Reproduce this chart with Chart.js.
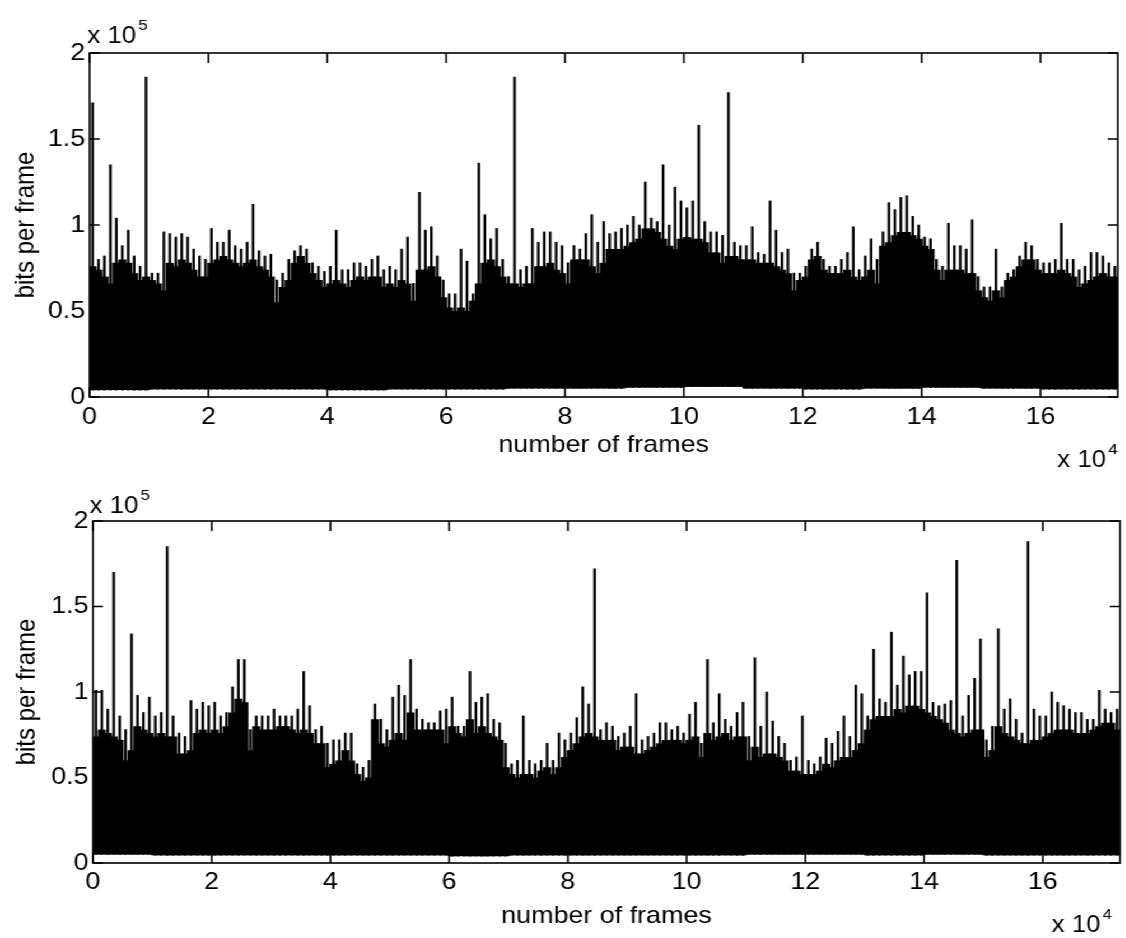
<!DOCTYPE html>
<html>
<head>
<meta charset="utf-8">
<title>bits per frame</title>
<script src="https://cdn.jsdelivr.net/npm/chart.js@4.4.0/dist/chart.umd.min.js"></script>
<style>
  html, body { margin: 0; padding: 0; background: #fff; }
  /* the scan is a little wider than tall, so the whole figure is stretched sideways */
  #wrap { position: absolute; left: 0; top: 0; width: 1005px; height: 938px;
          transform: scaleX(1.12); transform-origin: 0 0; }
  canvas { display: block; }
</style>
</head>
<body>
<div id="wrap">
  <canvas id="topChart" width="1005" height="470"></canvas>
  <canvas id="bottomChart" width="1005" height="468"></canvas>
</div>
<script>
// one bar per 1000 frames, x axis in units of 10^4 frames, y in units of 10^5 bits
const BIN_FRAMES = 1000;
const X_MAX = 17.3;
const xTicks = [0, 2, 4, 6, 8, 10, 12, 14, 16];
const yTicks = [0, 0.5, 1, 1.5, 2];
const xTitle = 'number of frames';
const yTitle = 'bits per frame';

// top trace: tallest frame in each bin
const topPeak = [
  1.71, 0.80, 0.82, 1.35, 1.04, 0.88, 0.97, 0.82, 0.76, 1.86,
  0.72, 0.72, 0.96, 0.95, 0.93, 0.95, 0.93, 0.86, 0.82, 0.80,
  0.98, 0.90, 0.90, 0.97, 0.88, 0.86, 0.90, 1.12, 0.85, 0.82,
  0.83, 0.68, 0.72, 0.80, 0.85, 0.88, 0.86, 0.78, 0.76, 0.73,
  0.76, 0.97, 0.74, 0.74, 0.78, 0.78, 0.76, 0.80, 0.82, 0.74,
  0.76, 0.74, 0.86, 0.93, 0.66, 1.19, 0.97, 0.99, 0.82, 0.68,
  0.60, 0.60, 0.86, 0.79, 0.60, 1.36, 1.06, 0.92, 0.98, 0.80,
  0.70, 1.86, 0.74, 0.76, 0.98, 0.90, 0.96, 0.96, 0.90, 0.88,
  0.78, 0.88, 0.86, 0.95, 1.06, 0.90, 1.02, 0.95, 0.96, 0.98,
  1.00, 1.05, 1.00, 1.25, 1.04, 1.02, 1.35, 1.00, 1.22, 1.14,
  1.10, 1.14, 1.58, 1.02, 0.96, 0.96, 0.94, 1.77, 0.90, 0.88,
  0.88, 0.99, 0.84, 0.83, 1.14, 0.97, 0.84, 0.86, 0.72, 0.72,
  0.76, 0.86, 0.90, 0.80, 0.76, 0.76, 0.80, 0.84, 0.99, 0.74,
  0.82, 0.92, 0.80, 0.96, 1.13, 1.09, 1.16, 1.17, 1.05, 1.00,
  0.93, 0.92, 0.80, 0.76, 1.01, 0.88, 0.88, 0.86, 1.03, 0.70,
  0.64, 0.64, 0.86, 0.64, 0.72, 0.74, 0.82, 0.90, 0.88, 0.80,
  0.78, 0.78, 0.80, 1.01, 0.80, 0.80, 0.74, 0.76, 0.84, 0.84,
  0.82, 0.78, 0.76
];
// top trace: level where the trace is solid black
const topBody = [
  0.76, 0.74, 0.70, 0.66, 0.78, 0.80, 0.78, 0.72, 0.68, 0.70,
  0.68, 0.66, 0.62, 0.78, 0.76, 0.80, 0.78, 0.74, 0.70, 0.70,
  0.78, 0.80, 0.82, 0.80, 0.78, 0.76, 0.78, 0.80, 0.76, 0.74,
  0.70, 0.55, 0.64, 0.68, 0.78, 0.82, 0.78, 0.72, 0.68, 0.64,
  0.66, 0.68, 0.66, 0.64, 0.68, 0.70, 0.68, 0.70, 0.70, 0.64,
  0.66, 0.64, 0.68, 0.66, 0.56, 0.74, 0.74, 0.76, 0.70, 0.58,
  0.52, 0.50, 0.52, 0.50, 0.56, 0.66, 0.78, 0.80, 0.76, 0.70,
  0.66, 0.66, 0.64, 0.66, 0.66, 0.76, 0.76, 0.78, 0.74, 0.72,
  0.66, 0.80, 0.80, 0.80, 0.76, 0.72, 0.78, 0.86, 0.86, 0.86,
  0.88, 0.90, 0.92, 0.98, 0.98, 0.96, 0.92, 0.88, 0.86, 0.92,
  0.93, 0.92, 0.92, 0.90, 0.84, 0.84, 0.78, 0.82, 0.82, 0.80,
  0.80, 0.80, 0.78, 0.78, 0.78, 0.76, 0.74, 0.72, 0.62, 0.68,
  0.70, 0.80, 0.82, 0.74, 0.72, 0.72, 0.72, 0.74, 0.70, 0.68,
  0.70, 0.74, 0.66, 0.88, 0.90, 0.94, 0.96, 0.96, 0.94, 0.92,
  0.88, 0.86, 0.74, 0.68, 0.74, 0.74, 0.74, 0.72, 0.72, 0.62,
  0.58, 0.56, 0.62, 0.58, 0.68, 0.70, 0.76, 0.80, 0.80, 0.74,
  0.72, 0.72, 0.72, 0.74, 0.72, 0.70, 0.64, 0.66, 0.68, 0.70,
  0.72, 0.70, 0.70
];
// smallest frames, one value per 10^4 frames (the white strip above zero)
const topFloor = [0.040, 0.045, 0.045, 0.045, 0.040, 0.045, 0.045, 0.050, 0.050,
                  0.055, 0.060, 0.050, 0.045, 0.050, 0.055, 0.050, 0.045, 0.045];

const bottomPeak = [
  1.01, 1.01, 0.90, 1.70, 0.86, 0.78, 1.34, 0.98, 0.88, 0.97,
  0.86, 0.88, 1.85, 0.86, 0.76, 0.74, 0.95, 0.90, 0.94, 0.92,
  0.94, 0.86, 0.88, 1.03, 1.19, 1.19, 0.78, 0.86, 0.86, 0.86,
  0.90, 0.86, 0.86, 0.86, 0.90, 1.12, 0.92, 0.78, 0.80, 0.70,
  0.72, 0.72, 0.76, 0.76, 0.58, 0.56, 0.60, 0.93, 0.84, 0.78,
  0.97, 1.04, 0.98, 1.19, 0.90, 0.84, 0.82, 0.82, 0.89, 0.90,
  0.97, 0.80, 0.80, 1.12, 0.94, 0.97, 0.99, 0.84, 0.82, 0.70,
  0.58, 0.60, 0.86, 0.60, 0.58, 0.60, 0.70, 0.60, 0.76, 0.72,
  0.76, 0.85, 1.03, 0.93, 1.72, 0.78, 0.82, 0.80, 0.74, 0.76,
  0.80, 0.99, 0.72, 0.74, 0.76, 0.82, 0.82, 0.78, 0.80, 0.76,
  0.87, 0.94, 0.70, 1.19, 0.82, 0.99, 0.84, 0.80, 0.88, 0.94,
  0.74, 1.20, 0.80, 1.00, 0.83, 0.74, 0.70, 0.60, 0.62, 0.86,
  0.60, 0.58, 0.62, 0.73, 0.70, 0.77, 0.86, 0.74, 1.04, 0.99,
  0.86, 1.25, 0.96, 0.94, 1.35, 1.04, 1.21, 1.10, 1.12, 1.12,
  1.58, 0.94, 0.92, 0.93, 0.95, 1.77, 0.86, 0.98, 1.08, 1.31,
  0.72, 0.80, 1.37, 0.90, 0.96, 0.84, 0.76, 1.88, 0.90, 0.86,
  0.86, 1.00, 0.94, 0.92, 0.90, 0.88, 0.88, 0.84, 0.84, 1.01,
  0.90, 0.88, 0.90
];
const bottomBody = [
  0.74, 0.78, 0.76, 0.74, 0.72, 0.60, 0.66, 0.80, 0.78, 0.76,
  0.74, 0.76, 0.74, 0.74, 0.64, 0.64, 0.66, 0.76, 0.78, 0.76,
  0.78, 0.76, 0.80, 0.88, 0.96, 0.94, 0.66, 0.80, 0.78, 0.78,
  0.78, 0.80, 0.80, 0.78, 0.76, 0.78, 0.76, 0.70, 0.70, 0.56,
  0.58, 0.60, 0.66, 0.60, 0.52, 0.48, 0.50, 0.84, 0.70, 0.68,
  0.72, 0.76, 0.72, 0.88, 0.78, 0.78, 0.78, 0.78, 0.78, 0.70,
  0.80, 0.76, 0.74, 0.84, 0.76, 0.80, 0.76, 0.74, 0.72, 0.56,
  0.52, 0.50, 0.52, 0.52, 0.50, 0.54, 0.56, 0.52, 0.56, 0.62,
  0.66, 0.70, 0.74, 0.76, 0.74, 0.72, 0.72, 0.72, 0.66, 0.68,
  0.68, 0.64, 0.64, 0.66, 0.68, 0.70, 0.72, 0.72, 0.72, 0.70,
  0.72, 0.74, 0.62, 0.76, 0.72, 0.74, 0.76, 0.72, 0.74, 0.74,
  0.60, 0.68, 0.62, 0.64, 0.64, 0.62, 0.60, 0.54, 0.54, 0.52,
  0.52, 0.52, 0.54, 0.58, 0.56, 0.60, 0.62, 0.62, 0.66, 0.70,
  0.78, 0.84, 0.86, 0.86, 0.86, 0.90, 0.88, 0.92, 0.92, 0.90,
  0.88, 0.86, 0.84, 0.82, 0.78, 0.76, 0.74, 0.76, 0.78, 0.78,
  0.62, 0.66, 0.80, 0.76, 0.74, 0.72, 0.70, 0.70, 0.72, 0.72,
  0.74, 0.76, 0.78, 0.78, 0.78, 0.76, 0.76, 0.76, 0.78, 0.80,
  0.82, 0.82, 0.78
];
const bottomFloor = [0.050, 0.045, 0.045, 0.045, 0.045, 0.045, 0.040, 0.045, 0.045,
                     0.045, 0.045, 0.050, 0.050, 0.045, 0.050, 0.045, 0.045, 0.045];

Chart.defaults.font.family = '"Liberation Sans", Arial, Helvetica, sans-serif';
Chart.defaults.color = '#000';

const TEXT_FONT = '24px "Liberation Sans", Arial, Helvetica, sans-serif';

function binX(i) {
    return (i + 0.5) * BIN_FRAMES / 1e4;
}

function makeDatasets(body, peak, floor) {
    const bodyData = body.map((v, i) => ({ x: binX(i), y: [floor[Math.floor(i / 10)], v] }));
    const peakData = peak.map((v, i) => ({ x: binX(i), y: [floor[Math.floor(i / 10)], v] }));
    return [
        {
            label: 'peak',
            data: peakData,
            backgroundColor: '#000',
            borderWidth: 0,
            barThickness: 1.7,
            grouped: false
        },
        {
            label: 'bits',
            data: bodyData,
            backgroundColor: '#000',
            borderWidth: 0,
            barPercentage: 1.35,   // overlap so no seams show between bins
            categoryPercentage: 1.0,
            grouped: false
        }
    ];
}

// "x 10^n" multiplier labels
function drawExponent(ctx, x, y, exp) {
    ctx.font = '23px "Liberation Sans", Arial, Helvetica, sans-serif';
    ctx.textAlign = 'left';
    ctx.textBaseline = 'alphabetic';
    ctx.fillText('x 10', x, y);
    const w = ctx.measureText('x 10').width;
    ctx.font = '15px "Liberation Sans", Arial, Helvetica, sans-serif';
    ctx.fillText(exp, x + w + 2, y - 13);
}

// matlab style box with inward ticks on all four sides, plus the labels
const framePlugin = {
    id: 'frame',
    afterDraw(chart, args, opts) {
        const { ctx, chartArea: a, scales } = chart;
        ctx.save();
        ctx.strokeStyle = '#000';
        ctx.lineWidth = 1.6;
        ctx.strokeRect(a.left, a.top, a.right - a.left, a.bottom - a.top);

        ctx.beginPath();
        xTicks.forEach(v => {
            const px = scales.x.getPixelForValue(v);
            ctx.moveTo(px, a.top);
            ctx.lineTo(px, a.top + 10);
            ctx.moveTo(px, a.bottom);
            ctx.lineTo(px, a.bottom - 10);
        });
        yTicks.forEach(v => {
            const py = scales.y.getPixelForValue(v);
            ctx.moveTo(a.left, py);
            ctx.lineTo(a.left + 9, py);
            ctx.moveTo(a.right, py);
            ctx.lineTo(a.right - 9, py);
        });
        ctx.stroke();

        ctx.fillStyle = '#000';
        ctx.font = TEXT_FONT;
        ctx.textAlign = 'center';
        ctx.textBaseline = 'alphabetic';
        ctx.fillText(xTitle, (a.left + a.right) / 2, opts.xTitleY);

        ctx.save();
        ctx.translate(opts.yTitleX, (a.top + a.bottom) / 2);
        ctx.rotate(-Math.PI / 2);
        ctx.textBaseline = 'middle';
        ctx.fillText(yTitle, 0, 0);
        ctx.restore();

        drawExponent(ctx, opts.yExpX, opts.yExpY, '5');
        drawExponent(ctx, opts.xExpX, opts.xExpY, '4');
        ctx.restore();
    }
};

function panelOptions(lay) {
    return {
        responsive: false,
        animation: false,
        events: [],
        layout: { padding: { top: lay.top, right: lay.right, left: 0, bottom: 0 } },
        plugins: {
            legend: { display: false },
            tooltip: { enabled: false },
            frame: lay
        },
        scales: {
            x: {
                type: 'linear',
                min: 0,
                max: X_MAX,
                offset: false,
                grid: { display: false, drawTicks: false },
                border: { display: false },
                afterBuildTicks: s => { s.ticks = xTicks.map(v => ({ value: v })); },
                afterFit: s => { s.height = lay.xAxisHeight; },
                ticks: { padding: lay.xTickPad, font: { size: 24 }, maxRotation: 0, callback: v => String(v) }
            },
            y: {
                min: 0,
                max: 2,
                grid: { display: false, drawTicks: false },
                border: { display: false },
                afterBuildTicks: s => { s.ticks = yTicks.map(v => ({ value: v })); },
                afterFit: s => { s.width = lay.left; },
                ticks: { padding: 4, font: { size: 24 }, callback: v => String(v) }
            }
        }
    };
}

new Chart(document.getElementById('topChart'), {
    type: 'bar',
    data: { datasets: makeDatasets(topBody, topPeak, topFloor) },
    options: panelOptions({
        top: 53, right: 7, left: 80, xAxisHeight: 73, xTickPad: 6,
        xTitleY: 452, yTitleX: 23, yExpX: 78, yExpY: 43, xExpX: 944, xExpY: 467
    }),
    plugins: [framePlugin]
});

new Chart(document.getElementById('bottomChart'), {
    type: 'bar',
    data: { datasets: makeDatasets(bottomBody, bottomPeak, bottomFloor) },
    options: panelOptions({
        top: 51, right: 5, left: 83, xAxisHeight: 75, xTickPad: 5,
        xTitleY: 453, yTitleX: 24, yExpX: 80, yExpY: 43, xExpX: 939, xExpY: 462
    }),
    plugins: [framePlugin]
});
</script>
</body>
</html>
